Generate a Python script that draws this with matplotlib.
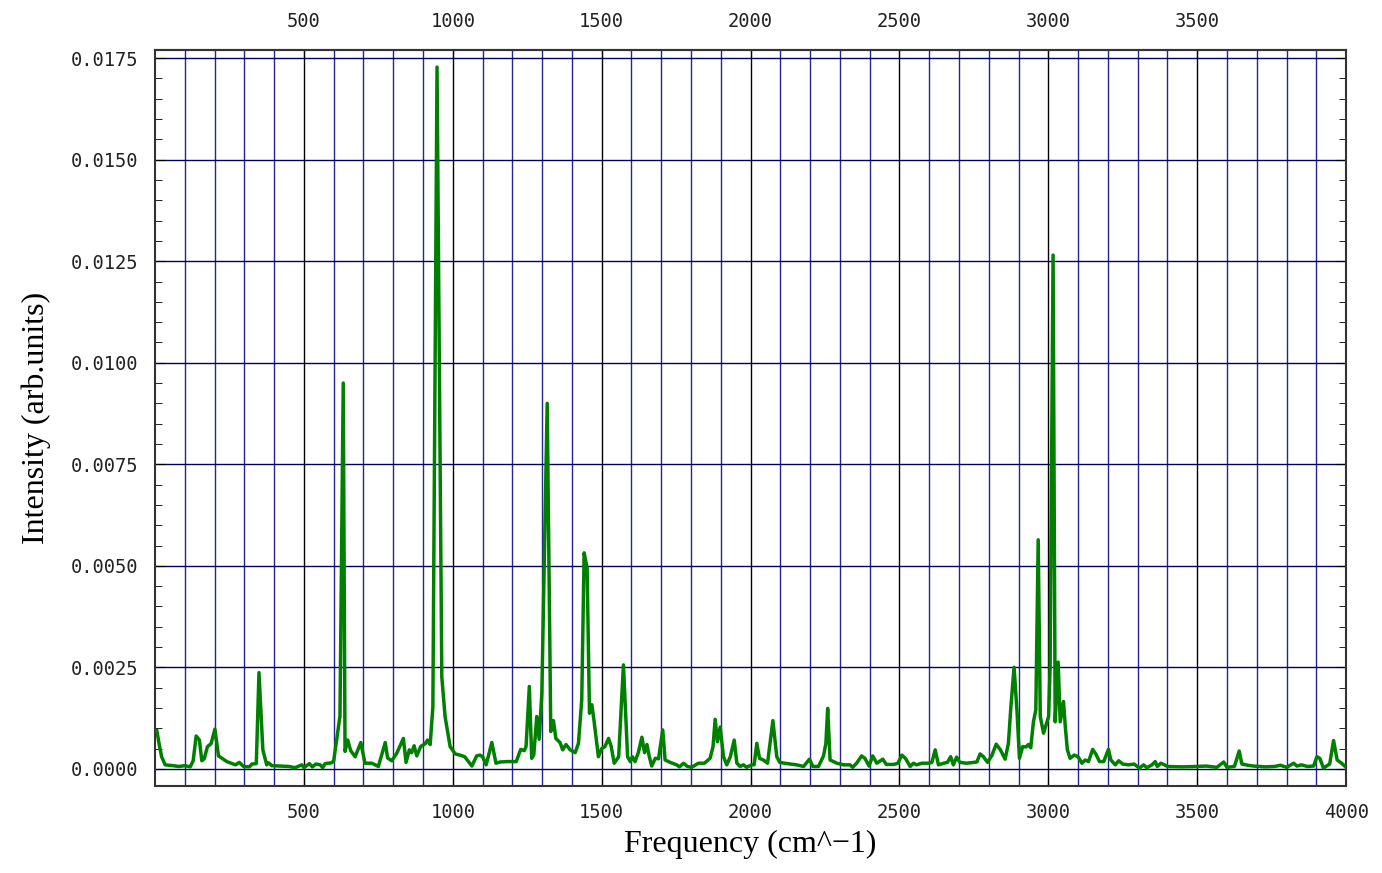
#plot.py
#imports
import matplotlib
matplotlib.use("Agg")
import matplotlib.pyplot as plt
from matplotlib.ticker import MultipleLocator, FormatStrFormatter

#spectrum
freq = [6, 14, 22, 34, 60, 80, 100, 118, 128, 138, 149, 157, 165, 176, 188, 201, 213, 241,
        270, 283, 297, 317, 325, 340, 349, 362, 375, 381, 392, 420, 450, 470, 493, 500, 518,
        528, 540, 555, 563, 571, 593, 600, 621, 632, 638, 647, 657, 672, 691, 705, 728, 750,
        773, 781, 795, 812, 834, 843, 854, 862, 870, 879, 892, 907, 915, 924, 933, 947, 963,
        974, 991, 1008, 1024, 1040, 1064, 1080, 1091, 1100, 1112, 1131, 1145, 1159, 1181,
        1213, 1228, 1240, 1246, 1257, 1265, 1272, 1282, 1290, 1299, 1317, 1329, 1338, 1346,
        1360, 1369, 1380, 1394, 1411, 1422, 1433, 1441, 1451, 1459, 1467, 1474, 1489, 1500,
        1511, 1523, 1532, 1542, 1557, 1573, 1587, 1596, 1603, 1612, 1623, 1635, 1644, 1652,
        1660, 1668, 1680, 1691, 1705, 1713, 1730, 1752, 1761, 1775, 1788, 1802, 1825, 1845,
        1864, 1874, 1881, 1889, 1898, 1909, 1920, 1932, 1945, 1954, 1965, 1976, 1987, 2004,
        2012, 2021, 2030, 2043, 2057, 2075, 2088, 2098, 2133, 2155, 2178, 2198, 2209, 2228,
        2245, 2253, 2259, 2267, 2290, 2312, 2334, 2343, 2356, 2373, 2384, 2398, 2410, 2424,
        2444, 2456, 2481, 2495, 2508, 2520, 2536, 2547, 2558, 2575, 2598, 2609, 2620, 2631,
        2648, 2661, 2672, 2681, 2692, 2703, 2726, 2748, 2760, 2771, 2782, 2796, 2811, 2825,
        2839, 2855, 2866, 2874, 2885, 2895, 2903, 2914, 2925, 2933, 2941, 2950, 2958, 2966,
        2973, 2984, 3001, 3006, 3016, 3023, 3033, 3040, 3051, 3057, 3064, 3073, 3087, 3100,
        3113, 3124, 3135, 3149, 3160, 3172, 3186, 3202, 3210, 3225, 3236, 3250, 3269, 3288,
        3306, 3320, 3331, 3348, 3359, 3366, 3378, 3390, 3400, 3450, 3500, 3530, 3566, 3589,
        3600, 3625, 3641, 3650, 3670, 3689, 3730, 3760, 3779, 3801, 3824, 3835, 3850, 3870,
        3891, 3902, 3912, 3924, 3945, 3958, 3970, 3985, 4000]

intensity = [0.00094, 0.0006, 0.0003, 0.0001, 0.00008, 0.00006, 0.00008, 0.00005, 0.0002,
             0.00081, 0.00071, 0.0002, 0.00025, 0.00055, 0.00062, 0.00098, 0.00032, 0.00018,
             0.0001, 0.00016, 0.00006, 0.00005, 0.00012, 0.00013, 0.00237, 0.00047, 0.0001,
             0.00015, 0.00008, 0.00007, 0.00006, 0.00003, 0.0001, 0.00003, 0.00013, 0.00005,
             0.00012, 0.0001, 0.00003, 0.00013, 0.00015, 0.0002, 0.0013, 0.0095, 0.00043,
             0.00071, 0.00045, 0.0003, 0.00065, 0.00014, 0.00014, 0.00006, 0.00065, 0.00027,
             0.0002, 0.00039, 0.00075, 0.00016, 0.00047, 0.0004, 0.00057, 0.00032, 0.00055,
             0.00062, 0.00071, 0.0006, 0.00153, 0.01728, 0.00227, 0.00129, 0.00055, 0.00037,
             0.00034, 0.0003, 0.00007, 0.00032, 0.00034, 0.0003, 0.0001, 0.00065, 0.00014,
             0.00017, 0.00018, 0.00018, 0.00048, 0.00045, 0.00055, 0.00203, 0.00026, 0.00035,
             0.00129, 0.00073, 0.00186, 0.009, 0.00092, 0.00119, 0.00075, 0.00065, 0.00047,
             0.0006, 0.00047, 0.0004, 0.00063, 0.0017, 0.00532, 0.00495, 0.00137, 0.00158,
             0.0012, 0.0003, 0.0005, 0.00055, 0.00075, 0.00055, 0.00014, 0.0003, 0.00256,
             0.0003, 0.00018, 0.0003, 0.00018, 0.0004, 0.00078, 0.0004, 0.0006, 0.0003,
             0.00007, 0.00026, 0.00025, 0.00096, 0.00022, 0.00016, 0.0001, 0.00005, 0.00014,
             0.00006, 0.00004, 0.00014, 0.00014, 0.00026, 0.00055, 0.00122, 0.00067, 0.00103,
             0.0003, 0.0001, 0.0003, 0.00071, 0.00014, 0.00006, 0.0001, 0.00004, 0.0001,
             0.0001, 0.00063, 0.00026, 0.00022, 0.00014, 0.00119, 0.0003, 0.00016, 0.00012,
             0.0001, 0.00006, 0.00024, 0.00006, 0.00006, 0.00032, 0.00063, 0.00149, 0.00022,
             0.00014, 0.0001, 0.0001, 0.00004, 0.00014, 0.00032, 0.00026, 0.00007, 0.00032,
             0.00014, 0.00024, 0.00011, 0.00011, 0.00014, 0.00034, 0.00026, 0.00006, 0.00014,
             0.0001, 0.00014, 0.00014, 0.00016, 0.00047, 0.0001, 0.00014, 0.00016, 0.0003,
             0.0001, 0.00029, 0.00016, 0.00014, 0.00016, 0.00017, 0.00037, 0.0003, 0.00016,
             0.00034, 0.00061, 0.00047, 0.00024, 0.00063, 0.0015, 0.0025, 0.0014, 0.00026,
             0.00055, 0.00054, 0.0006, 0.00052, 0.00116, 0.00145, 0.00564, 0.00129, 0.00088,
             0.00129, 0.0025, 0.01265, 0.00116, 0.00263, 0.00116, 0.00166, 0.00104, 0.00047,
             0.00026, 0.00034, 0.0003, 0.00014, 0.00022, 0.00018, 0.00048, 0.00036, 0.00018,
             0.00018, 0.00048, 0.00022, 0.0001, 0.0002, 0.00012, 0.0001, 0.00012, 0.00002,
             0.0001, 0.00003, 0.0001, 0.00018, 0.00006, 0.00014, 0.0001, 0.00006, 0.00005,
             0.00006, 0.00007, 0.00004, 0.00017, 0.00004, 0.00006, 0.00044, 0.00012, 0.00009,
             0.00007, 0.00005, 0.00006, 0.00009, 0.00004, 0.00014, 0.00007, 0.0001, 0.00006,
             0.00007, 0.0003, 0.00026, 0.00002, 0.00012, 0.0007, 0.00022, 0.00014, 0.00004]

top_ticks = [500, 1000, 1500, 2000, 2500, 3000, 3500]
bottom_ticks = [500, 1000, 1500, 2000, 2500, 3000, 3500, 4000]

fig = plt.figure(figsize=(13.82, 8.73), dpi=100)
ax = fig.add_axes([0.1122, 0.0997, 0.8618, 0.843])

#grid: navy every 100, black every 500
for xv in range(100, 4000, 100):
    if xv % 500 == 0:
        ax.axvline(xv, color="black", lw=1.0, zorder=1)
    else:
        ax.axvline(xv, color="#000080", lw=1.0, alpha=0.85, zorder=1)
for yv in [0.0, 0.0025, 0.005, 0.0075, 0.01, 0.0125, 0.015, 0.0175]:
    ax.axhline(yv, color="#000060", lw=1.0, zorder=1)

ax.plot(freq, intensity, color="#008000", lw=2.5, zorder=3)

ax.set_xlim(0, 4000)
ax.set_ylim(-0.00042, 0.0177)
ax.set_xticks(bottom_ticks)
ax.yaxis.set_major_locator(MultipleLocator(0.0025))
ax.yaxis.set_minor_locator(MultipleLocator(0.0005))
ax.yaxis.set_major_formatter(FormatStrFormatter('%.4f'))

mono = "DejaVu Sans Mono"
ax.tick_params(axis="both", which="both", direction="in", labelsize=13.5, colors="black")
ax.tick_params(axis="x", which="major", length=6, pad=12, top=False)
ax.tick_params(axis="y", which="major", length=7, pad=12, right=True)
ax.tick_params(axis="y", which="minor", length=5, right=True)
for lab in ax.get_xticklabels() + ax.get_yticklabels():
    lab.set_fontfamily(mono)
    lab.set_color("#222222")

#top axis labels (no 4000)
sec = ax.secondary_xaxis("top")
sec.set_xticks(top_ticks)
sec.tick_params(direction="in", length=6, pad=14, labelsize=13.5)
for lab in sec.get_xticklabels():
    lab.set_fontfamily(mono)
    lab.set_color("#222222")

for s in ax.spines.values():
    s.set_linewidth(1.5)
    s.set_color("#333333")
sec.spines["top"].set_linewidth(1.5)
sec.spines["top"].set_color("#333333")

ax.set_xlabel("Frequency (cm^\u22121)", fontfamily="Liberation Serif", fontsize=23, labelpad=6)
ax.set_ylabel("Intensity (arb.units)", fontfamily="Liberation Serif", fontsize=23, labelpad=14)

plt.savefig("out.png", dpi=100)
